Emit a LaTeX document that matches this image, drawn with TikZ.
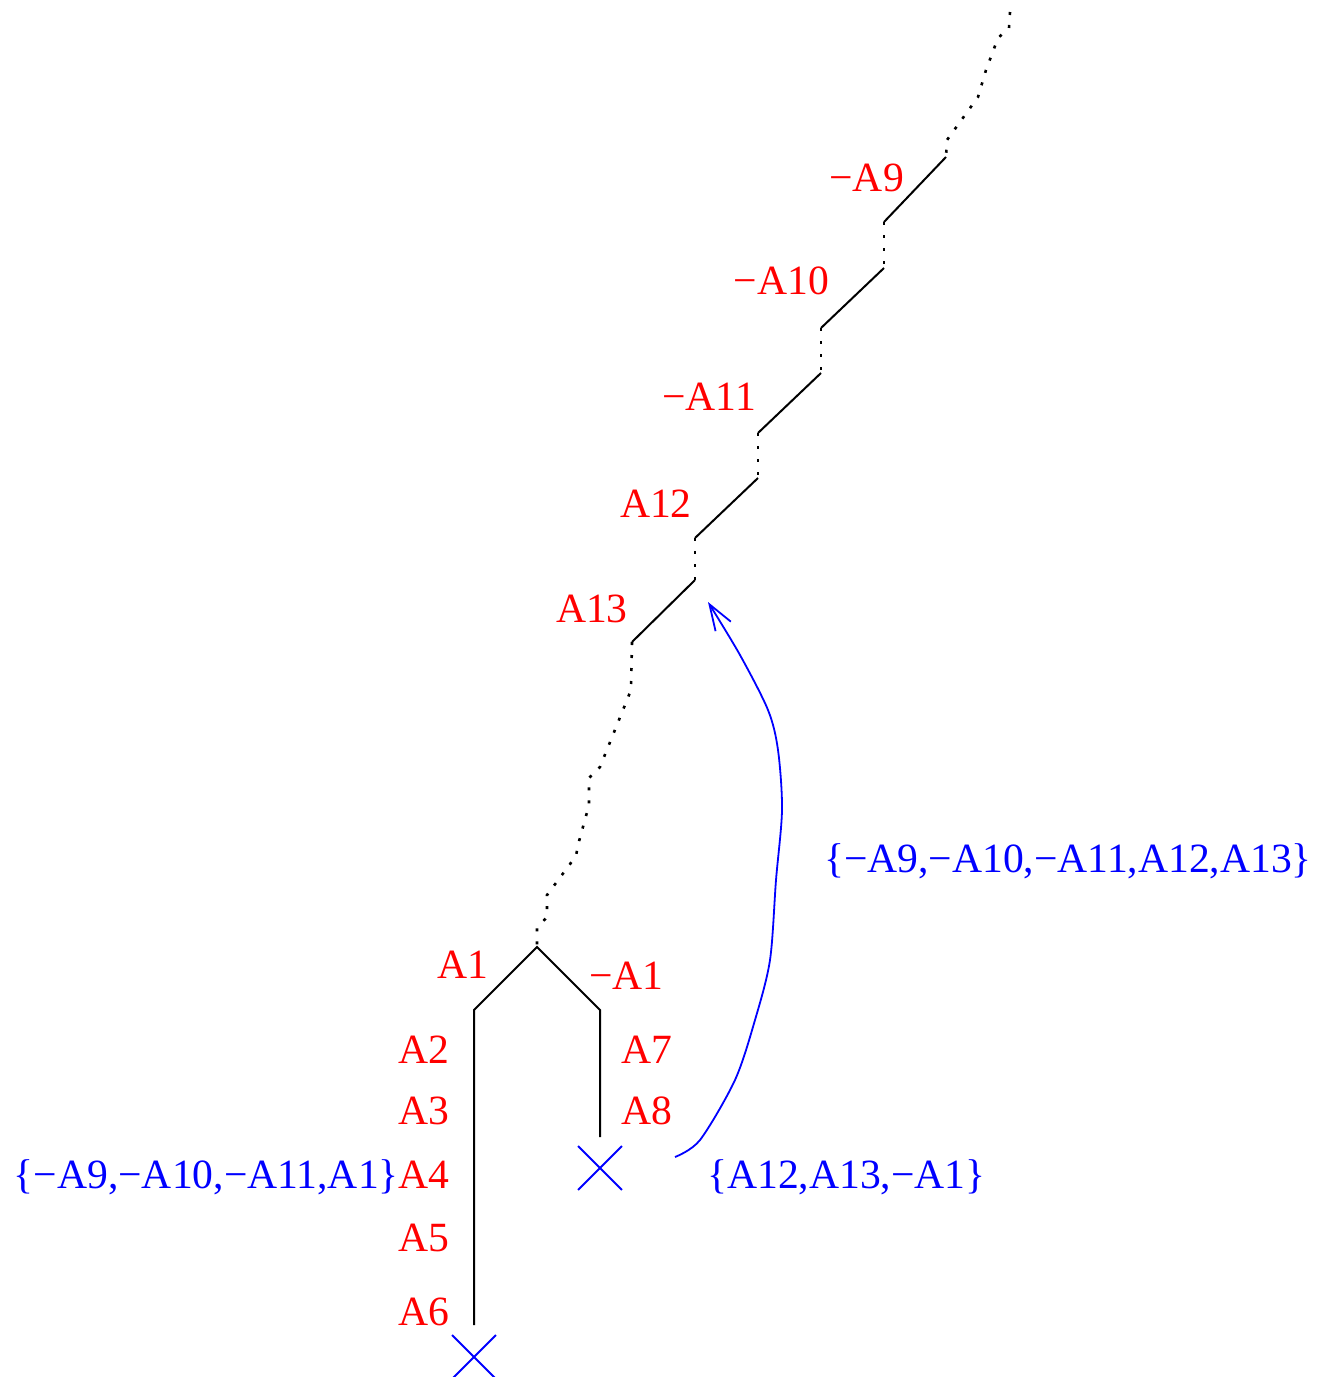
\documentclass[tikz,border=0pt]{standalone}
\usepackage{fontspec}
\setmainfont{Liberation Serif}
\usetikzlibrary{arrows.meta,shapes.misc}
\begin{document}
\begin{tikzpicture}[x=1pt,y=-1pt,
  lab/.style={text=red,inner sep=0pt,font=\fontsize{41.6}{48}\selectfont},
  setlab/.style={text=blue,inner sep=0pt,font=\fontsize{41.6}{48}\selectfont},
  solidseg/.style={line width=2pt},
  dotseg/.style={line width=2.6pt,dash pattern=on 3pt off 10pt},
  xmark/.style={draw=blue,cross out,line width=1.8pt,minimum size=42pt,inner sep=0pt},
  link/.style={draw=blue,line width=1.8pt,-{Straight Barb[length=26pt,width=18pt]}}]
\useasboundingbox (0,0) rectangle (1327,1377);
% vertices
\coordinate (t0) at (1010,12);
\coordinate (p9) at (946,157);
\coordinate (q9) at (884,222);
\coordinate (p10) at (884,268);
\coordinate (q10) at (821,328);
\coordinate (p11) at (821,373);
\coordinate (q11) at (758,433);
\coordinate (p12) at (758,478);
\coordinate (q12) at (695,538);
\coordinate (p13) at (695,580);
\coordinate (q13) at (632,642);
\coordinate (apex) at (537,947);
\coordinate (lt) at (474,1010);
\coordinate (lb) at (474,1325);
\coordinate (rt) at (600,1010);
\coordinate (rb) at (600,1137);
% dotted parts
\draw[dotseg] (t0) -- (1009,28) -- (998,38) -- (986,70) -- (978,97) -- (947,140) -- (p9);
\draw[dotseg] (q9) -- (p10);
\draw[dotseg] (q10) -- (p11);
\draw[dotseg] (q11) -- (p12);
\draw[dotseg] (q12) -- (p13);
\draw[dotseg] (q13) -- (631,690) -- (600,767) -- (589,778) -- (589,805) -- (578,845) -- (576,856) -- (547,895) -- (547,917) -- (537,928) -- (apex);
% solid parts
\draw[solidseg] (p9) -- (q9);
\draw[solidseg] (p10) -- (q10);
\draw[solidseg] (p11) -- (q11);
\draw[solidseg] (p12) -- (q12);
\draw[solidseg] (p13) -- (q13);
\draw[solidseg] (lb) -- (lt) -- (apex) -- (rt) -- (rb);
% crosses
\node[xmark] (x1) at (600,1168) {};
\node[xmark] (x2) at (474,1357) {};
% labels
\node[lab,anchor=base east] (l9) at (904,191) {−A9};
\node[lab,anchor=base east] (l10) at (829,294) {−A10};
\node[lab,anchor=base east] (l11) at (756,410) {−A11};
\node[lab,anchor=base east] (l12) at (692,517) {A12};
\node[lab,anchor=base east] (l13) at (628,622) {A13};
\node[lab,anchor=base east] (l1) at (489,978) {A1};
\node[lab,anchor=base west] (lm1) at (589,989) {−A1};
\node[lab,anchor=base east] (l2) at (450,1063) {A2};
\node[lab,anchor=base east] (l3) at (450,1124) {A3};
\node[lab,anchor=base east] (l4) at (450,1188) {A4};
\node[lab,anchor=base east] (l5) at (450,1251) {A5};
\node[lab,anchor=base east] (l6) at (450,1325) {A6};
\node[lab,anchor=base west] (l7) at (621,1063) {A7};
\node[lab,anchor=base west] (l8) at (621,1124) {A8};
\node[setlab,anchor=base east] (s1) at (399,1188) {\{−A9,−A10,−A11,A1\}};
\node[setlab,anchor=base west] (s2) at (707,1188) {\{A12,A13,−A1\}};
\node[setlab,anchor=base west] (s3) at (824,872) {\{−A9,−A10,−A11,A12,A13\}};
% blue link
\coordinate (ls) at (675,1157);
\coordinate (le) at (708,602);
\draw[link] plot[smooth,tension=0.5] coordinates {(ls) (700,1140) (735,1080) (755,1020) (770,960) (776,880) (782,810) (778,750) (768,710) (740,655) (le)};
\end{tikzpicture}
\end{document}
